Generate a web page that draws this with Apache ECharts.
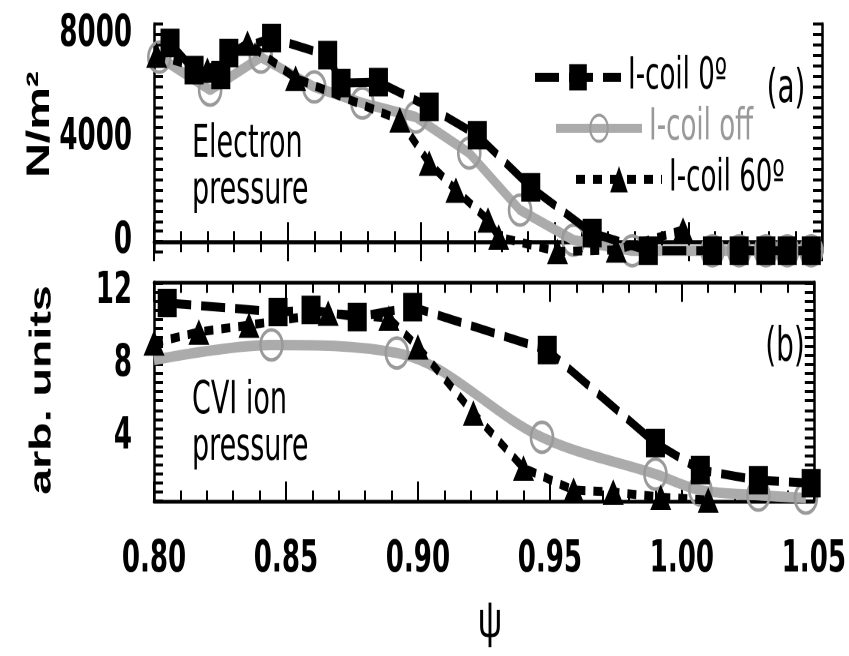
<!DOCTYPE html>
<html>
<head>
<meta charset="utf-8">
<script src="https://cdn.jsdelivr.net/npm/echarts@6/dist/echarts.min.js"></script>
<style>
  html, body { margin: 0; padding: 0; background: #fff; overflow: hidden; }
  /* the figure is laid out on a compressed vertical scale and stretched back */
  #wrap { width: 849px; height: 656px; overflow: hidden; }
  #chart { width: 849px; height: 437.333px; transform: scaleY(1.5); transform-origin: 0 0; }
</style>
</head>
<body>
<div id="wrap"><div id="chart"></div></div>
<script>
// ---- Electron pressure (N/m^2) ----
const psiE0 = [0.806, 0.815, 0.825, 0.828, 0.844, 0.865, 0.870, 0.884, 0.903, 0.921, 0.941, 0.964, 0.985, 1.009, 1.019, 1.029, 1.037, 1.046];
const pE0   = [7670, 6620, 6430, 7280, 7860, 7200, 6120, 6160, 5200, 4110, 2100, 330, -350, -350, -350, -350, -350, -350];
const psiEoff = [0.802, 0.821, 0.840, 0.860, 0.878, 0.898, 0.918, 0.937, 0.957, 0.979, 1.009, 1.019, 1.029, 1.037, 1.046];
const pEoff   = [7120, 5850, 7120, 5970, 5350, 4810, 3420, 1220, 60, -350, -350, -350, -350, -350, -350];
const psiE60 = [0.801, 0.820, 0.835, 0.853, 0.892, 0.903, 0.913, 0.925, 0.929, 0.951, 0.973, 0.998];
const pE60   = [7200, 6620, 7660, 6310, 4700, 3030, 1990, 835, 180, -380, -320, 450];

// ---- CVI ion pressure (arb. units) ----
const psiI0 = [0.805, 0.847, 0.8595, 0.877, 0.898, 0.949, 0.990, 1.007, 1.029, 1.049];
const pI0   = [11.37, 10.88, 10.99, 10.6, 11.15, 8.79, 3.68, 2.2, 1.64, 1.48];
const psiIoff = [0.800, 0.8445, 0.892, 0.947, 0.990, 1.007, 1.029, 1.047];
const pIoff   = [8.24, 9.07, 8.63, 4.0, 1.98, 1.1, 0.82, 0.66];
const psiI60 = [0.800, 0.817, 0.836, 0.866, 0.889, 0.900, 0.921, 0.940, 0.959, 0.974, 0.992, 1.010];
const pI60   = [9.18, 9.78, 10.16, 10.82, 10.55, 8.96, 5.33, 2.31, 1.1, 0.99, 0.71, 0.55];

// ---- axis labels ----
const xTicks = ['0.80', '0.85', '0.90', '0.95', '1.00', '1.05'];
const yTicksTop = [0, 4000, 8000];
const yTicksBottom = [4, 8, 12];
const seriesNames = ['I-coil 0\u00ba', 'I-coil off', 'I-coil 60\u00ba'];

const NARROW = "'DejaVu Sans Condensed', 'Liberation Sans', sans-serif";
const SANS = "'Liberation Sans', Arial, sans-serif";

const zip = (xs, ys) => xs.map((x, i) => [x, ys[i]]);

const chart = echarts.init(document.getElementById('chart'), null, {
  renderer: 'canvas', devicePixelRatio: 2, width: 849, height: 437.333
});

const frame = { show: true, lineStyle: { color: '#000', width: 2.5 } };

function xAxisDef(gridIndex, position, showLabel) {
  return {
    type: 'value', gridIndex, position, min: 0.80, max: 1.05, interval: 0.05,
    axisLine: frame,
    axisTick: { show: true, inside: true, length: 13, lineStyle: { color: '#000', width: 2 } },
    minorTick: { show: true, splitNumber: 5, length: 7, lineStyle: { color: '#000', width: 2 } },
    splitLine: { show: false }, minorSplitLine: { show: false },
    axisLabel: {
      show: showLabel, margin: 25,
      fontFamily: NARROW, fontWeight: 'bold', fontSize: 29, color: '#000',
      formatter: v => {
        const s = v.toFixed(2);
        return xTicks.includes(s) ? s : '';
      }
    }
  };
}

function yAxisDef(gridIndex, position, min, max, interval, labels) {
  return {
    type: 'value', gridIndex, position, min, max, interval,
    axisLine: frame,
    axisTick: { show: true, inside: true, length: 9, lineStyle: { color: '#000', width: 2 } },
    splitLine: { show: false },
    axisLabel: {
      show: position === 'left', margin: 22,
      fontFamily: NARROW, fontWeight: 'bold', fontSize: 29, color: '#000',
      formatter: v => (labels.some(t => Math.abs(t - v) < 1e-6) ? String(Math.round(v)) : '')
    }
  };
}

const styles = {
  d0: {
    lineStyle: { color: '#000', width: 6, type: [24, 10] },
    symbol: 'rect', symbolSize: 19,
    itemStyle: { color: '#000' }
  },
  off: {
    lineStyle: { color: '#ababab', width: 7 },
    symbol: 'circle', symbolSize: [22, 20],
    itemStyle: { color: 'rgba(255,255,255,0)', borderColor: '#9a9a9a', borderWidth: 2.5 }
  },
  d60: {
    lineStyle: { color: '#000', width: 6, type: [9, 8] },
    symbol: 'triangle', symbolSize: [21, 17],
    itemStyle: { color: '#000' }
  }
};

function series(name, key, xi, yi, data, extra) {
  return Object.assign({
    name, type: 'line', xAxisIndex: xi, yAxisIndex: yi, data,
    showSymbol: true, animation: false, clip: false
  }, styles[key], extra || {});
}

const offIonData = zip(psiIoff, pIoff).map((p, i) => (i === 0 ? { value: p, symbol: 'none' } : p));

function legendDef(name, left, top, color) {
  return {
    data: [{ name, textStyle: { color } }],
    left, top, padding: 0,
    itemWidth: 86, itemHeight: 22,
    selectedMode: false,
    lineStyle: { width: 6 },
    textStyle: { fontFamily: NARROW, fontSize: 29, color, padding: [0, 0, 0, 2] }
  };
}

const option = {
  backgroundColor: '#fff',
  animation: false,
  grid: [
    { left: 154, right: 27, top: 16, height: 152 },
    { left: 154, right: 27, top: 188.3, height: 145.7 }
  ],
  xAxis: [
    xAxisDef(0, 'bottom', false),
    xAxisDef(0, 'top', false),
    xAxisDef(1, 'bottom', true),
    xAxisDef(1, 'top', false)
  ],
  yAxis: [
    yAxisDef(0, 'left', -400, 8400, 400, yTicksTop),
    yAxisDef(0, 'right', -400, 8400, 400, yTicksTop),
    yAxisDef(1, 'left', 0.5, 12.5, 0.5, yTicksBottom),
    yAxisDef(1, 'right', 0.5, 12.5, 0.5, yTicksBottom)
  ],
  legend: [
    legendDef(seriesNames[0], 532, 37, '#000'),
    legendDef(seriesNames[1], 553, 71, '#999'),
    legendDef(seriesNames[2], 573, 105, '#000')
  ],
  series: [
    series(seriesNames[1], 'off', 0, 0, zip(psiEoff, pEoff), { z: 2 }),
    series(seriesNames[0], 'd0', 0, 0, zip(psiE0, pE0), { z: 3 }),
    series(seriesNames[2], 'd60', 0, 0, zip(psiE60, pE60), { z: 3 }),
    series(seriesNames[1], 'off', 2, 2, offIonData, { z: 2, smooth: 0.35 }),
    series(seriesNames[0], 'd0', 2, 2, zip(psiI0, pI0), { z: 3 }),
    series(seriesNames[2], 'd60', 2, 2, zip(psiI60, pI60), { z: 3 })
  ],
  graphic: [
    { type: 'text', x: 192, y: 81, style: { text: 'Electron\npressure', font: '30px ' + NARROW, lineHeight: 31, fill: '#000', align: 'left', verticalAlign: 'top' } },
    { type: 'text', x: 192, y: 252, style: { text: 'CVI ion\npressure', font: '30px ' + NARROW, lineHeight: 31, fill: '#000', align: 'left', verticalAlign: 'top' } },
    { type: 'text', x: 786, y: 60, style: { text: '(a)', font: '31px ' + NARROW, fill: '#000', align: 'center', verticalAlign: 'middle' } },
    { type: 'text', x: 785, y: 232, style: { text: '(b)', font: '31px ' + NARROW, fill: '#000', align: 'center', verticalAlign: 'middle' } },
    { type: 'text', x: 40, y: 83, rotation: Math.PI / 2, style: { text: 'N/m\u00b2', font: 'bold 32px ' + SANS, fill: '#000', align: 'center', verticalAlign: 'middle' } },
    { type: 'text', x: 42, y: 260, rotation: Math.PI / 2, style: { text: 'arb. units', font: 'bold 31px ' + SANS, fill: '#000', align: 'center', verticalAlign: 'middle' } },
    { type: 'text', x: 490, y: 415, style: { text: '\u03c8', font: '34px ' + SANS, fill: '#000', align: 'center', verticalAlign: 'middle' } }
  ]
};

chart.setOption(option);
</script>
</body>
</html>
